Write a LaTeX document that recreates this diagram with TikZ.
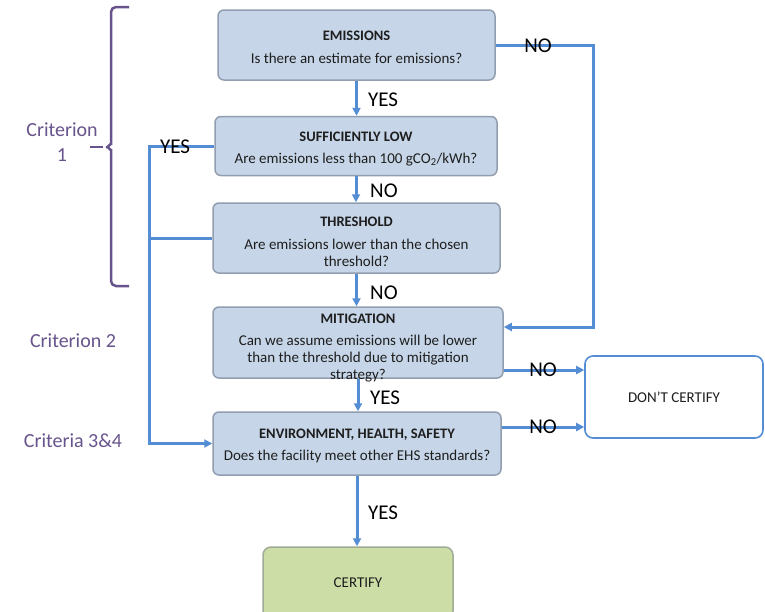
\documentclass[tikz,border=0pt]{standalone}
\usepackage{fontspec}
\setmainfont{Carlito}
\usetikzlibrary{arrows.meta}
\definecolor{boxfill}{RGB}{198,214,232}
\definecolor{boxdraw}{RGB}{145,158,176}
\definecolor{flowblue}{RGB}{84,141,212}
\definecolor{certfill}{RGB}{205,221,166}
\definecolor{certdraw}{RGB}{160,172,150}
\definecolor{critpurple}{RGB}{104,84,140}
\definecolor{textdark}{RGB}{30,30,30}
\newcommand{\boxtitle}[1]{{\fontsize{14.5}{17}\selectfont\bfseries #1}}
\begin{document}
\begin{tikzpicture}[x=1pt,y=-1pt,
  qbox/.style={draw=boxdraw, line width=1.5pt, fill=boxfill, rounded corners=6pt, inner sep=0pt},
  qtext/.style={inner sep=0pt, align=center, font=\fontsize{15}{17}\selectfont, text=textdark},
  endbox/.style={rounded corners=8pt, inner sep=0pt, align=center,
    font=\fontsize{15}{17}\selectfont, text=textdark},
  flow/.style={draw=flowblue, line width=3pt, -{Triangle[length=8pt,width=8pt]}},
  lbl/.style={font=\fontsize{21}{24}\selectfont, anchor=west, inner sep=0pt, text=black},
  nolbl/.style={font=\fontsize{21}{24}\selectfont, inner sep=0pt, text=black},
  crit/.style={font=\fontsize{20}{25}\selectfont, text=critpurple, align=center, inner sep=0pt},
  brace/.style={draw=critpurple, line width=2.5pt, rounded corners=5pt}]
\clip (0,0) rectangle (765,611);
\fill[white] (0,0) rectangle (765,611);

% boxes
\node[qbox, minimum width=277pt, minimum height=70pt] (em) at (356.5,45) {};
\node[qtext] (emt) at ([yshift=-2.5pt]em.center)
  {\boxtitle{EMISSIONS}\\[6pt]Is there an estimate for emissions?};
\node[qbox, minimum width=282pt, minimum height=59pt] (suf) at (356,146) {};
\node[qtext] (suft) at ([yshift=-3pt]suf.center)
  {\boxtitle{SUFFICIENTLY LOW}\\[5pt]Are emissions less than 100 gCO\textsubscript{2}/kWh?};
\node[qbox, minimum width=287pt, minimum height=70pt] (thr) at (356.5,238) {};
\node[qtext] (thrt) at ([yshift=-4pt]thr.center)
  {\boxtitle{THRESHOLD}\\[6pt]Are emissions lower than the chosen\\threshold?};
\node[qbox, minimum width=290pt, minimum height=71pt] (mit) at (358,342.5) {};
\node[qtext] (mitt) at ([yshift=-6pt]mit.center)
  {\boxtitle{MITIGATION}\\[5pt]Can we assume emissions will be lower\\than the threshold due to mitigation\\strategy?};
\node[qbox, minimum width=288pt, minimum height=63pt] (ehs) at (357,443.5) {};
\node[qtext] (ehst) at ([yshift=-2.5pt]ehs.center)
  {\boxtitle{ENVIRONMENT, HEALTH, SAFETY}\\[5pt]Does the facility meet other EHS standards?};
\node[endbox, draw=certdraw, line width=1.5pt, fill=certfill, minimum width=190pt, minimum height=72pt] (cert) at (358,583)
  {CERTIFY};
\node[endbox, draw=flowblue, line width=1.6pt, fill=white, minimum width=178pt, minimum height=82pt] (dont) at (674,397)
  {DON’T CERTIFY};

% helper coordinates
\coordinate (rt) at (593,327);
\coordinate (lx) at (149,146);

% main flow
\draw[flow] (em.south) -- (em.south |- suf.north);
\draw[flow] (suf.south) -- (suf.south |- thr.north);
\draw[flow] (thr.south) -- (thr.south |- mit.north);
\draw[flow] (mit.south) -- (mit.south |- ehs.north);
\draw[flow] (ehs.south) -- (ehs.south |- cert.north);

% right side
\draw[flow] (em.east) -| (rt) -- (rt -| mit.east);
\draw[flow] ([yshift=-27.5pt]mit.east) -- ([yshift=-27.5pt]mit.east -| dont.west);
\draw[flow] ([yshift=16.5pt]ehs.east) -- ([yshift=16.5pt]ehs.east -| dont.west);

% left side
\draw[flow] (suf.west) -- (lx) |- (ehs.west);
\draw[draw=flowblue, line width=3pt] (thr.west) -- (thr.west -| lx);

% labels
\node[lbl] (l1) at (368,100) {YES};
\node[lbl] (l2) at (370,191) {NO};
\node[lbl] (l3) at (370,293) {NO};
\node[lbl] (l4) at (370,398) {YES};
\node[lbl] (l5) at (368,513) {YES};
\node[nolbl] (n1) at (538,46) {NO};
\node[nolbl] (n2) at (543,370) {NO};
\node[nolbl] (n3) at (543,427) {NO};
\node[lbl] (l6) at (160,147) {YES};

% criteria
\node[crit] (c1) at (62,142) {Criterion\\1};
\node[crit] (c2) at (73,341) {Criterion 2};
\node[crit] (c3) at (73,441) {Criteria 3\&4};

% brace
\draw[brace] (129,7) -- (111,7) -- (111,139) to[out=270,in=0] (103,147)
  to[out=0,in=90] (111,155) -- (111,286) -- (129,286);
\draw[brace] (103,147) -- (90,147);
\end{tikzpicture}
\end{document}
